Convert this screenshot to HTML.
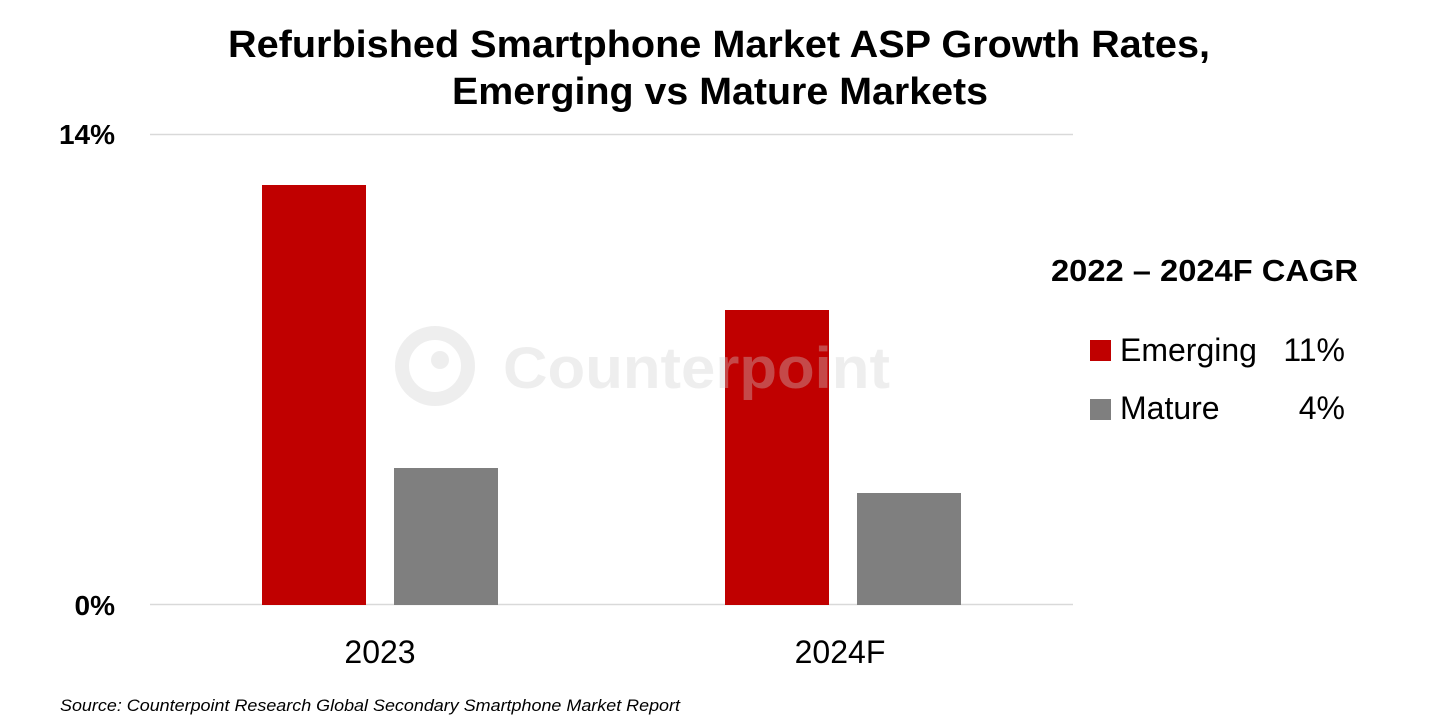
<!DOCTYPE html>
<html><head><meta charset="utf-8"><style>
html,body{margin:0;padding:0;background:#fff;}
body{width:1440px;height:726px;overflow:hidden;position:relative;font-family:"Liberation Sans",sans-serif;}
</style></head><body>
<svg width="1440" height="726" style="position:absolute;left:0;top:0" font-family="Liberation Sans, sans-serif">
<text x="228" y="57" font-size="38" font-weight="bold" fill="#000" textLength="982" lengthAdjust="spacingAndGlyphs">Refurbished Smartphone Market ASP Growth Rates,</text>
<text x="452" y="104" font-size="38" font-weight="bold" fill="#000" textLength="536" lengthAdjust="spacingAndGlyphs">Emerging vs Mature Markets</text>
<line x1="150" y1="134.5" x2="1073" y2="134.5" stroke="#d9d9d9" stroke-width="1.5"/>
<line x1="150" y1="604.5" x2="1073" y2="604.5" stroke="#d9d9d9" stroke-width="1.5"/>
<text x="115" y="144" text-anchor="end" font-size="28" font-weight="bold">14%</text>
<text x="115" y="615" text-anchor="end" font-size="28" font-weight="bold">0%</text>
<rect x="262" y="185" width="104" height="420" fill="#C00000"/>
<rect x="394" y="468" width="104" height="137" fill="#7F7F7F"/>
<rect x="725" y="310" width="104" height="295" fill="#C00000"/>
<rect x="857" y="493" width="104" height="112" fill="#7F7F7F"/>
<g opacity="0.35">
<circle cx="435" cy="366" r="33" fill="none" stroke="#d0d0d0" stroke-width="14"/>
<circle cx="440" cy="360" r="9" fill="#d0d0d0"/>
<text x="503" y="388" font-size="58" font-weight="bold" fill="#d0d0d0" textLength="387" lengthAdjust="spacingAndGlyphs">Counterpoint</text>
</g>
<text x="380" y="663" text-anchor="middle" font-size="32">2023</text>
<text x="840" y="663" text-anchor="middle" font-size="32">2024F</text>
<text x="1051" y="281" font-size="31" font-weight="bold" textLength="307" lengthAdjust="spacingAndGlyphs">2022 – 2024F CAGR</text>
<rect x="1090" y="340" width="21" height="21" fill="#C00000"/>
<rect x="1090" y="399" width="21" height="21" fill="#7F7F7F"/>
<text x="1120" y="361" font-size="32">Emerging</text>
<text x="1345" y="361" text-anchor="end" font-size="32">11%</text>
<text x="1120" y="419" font-size="32">Mature</text>
<text x="1345" y="419" text-anchor="end" font-size="32">4%</text>
<text x="60" y="711" font-size="17" font-style="italic" textLength="620" lengthAdjust="spacingAndGlyphs">Source: Counterpoint Research Global Secondary Smartphone Market Report</text>
</svg>
</body></html>
